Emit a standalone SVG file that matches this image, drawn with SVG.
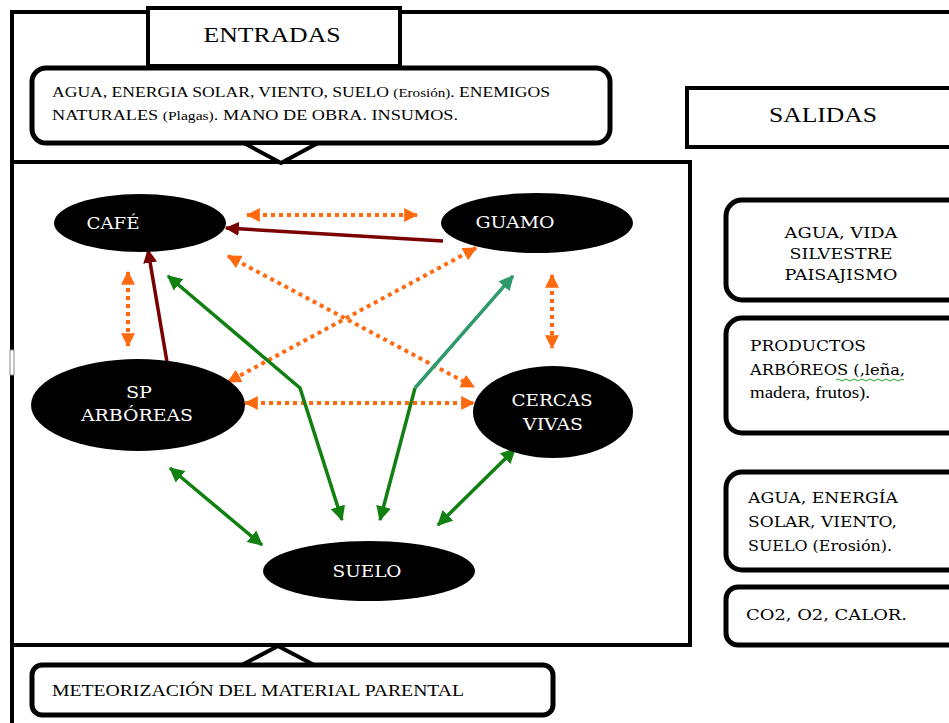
<svg xmlns="http://www.w3.org/2000/svg" width="949" height="723" viewBox="0 0 949 723">
  <style>
    .frame { fill: none; stroke: #000; stroke-width: 4; }
    .box { fill: #fff; stroke: #000; stroke-width: 4; }
    .rbox { fill: #fff; stroke: #000; stroke-width: 5; }
    .node { fill: #000; }
    .t { font-family: "Liberation Serif", "DejaVu Serif", serif; fill: #000; }
    .s { font-family: "DejaVu Serif", "Liberation Serif", serif; fill: #000; }
    .nt { font-family: "DejaVu Serif", "Liberation Serif", serif; fill: #fff; font-size: 16px; text-anchor: middle; }
    .dot { fill: none; stroke: #ff6a10; stroke-width: 4; stroke-dasharray: 4 4; }
    .red { fill: none; stroke: #7a0000; stroke-width: 3.5; }
    .grn { fill: none; stroke: #118011; stroke-width: 3.5; }
    .teal { fill: none; stroke: #2f9a6c; stroke-width: 3.5; }
  </style>
  <defs>
    <marker id="ao" viewBox="0 0 12 12" refX="11" refY="6" markerWidth="14" markerHeight="14" markerUnits="userSpaceOnUse" orient="auto-start-reverse">
      <path d="M0,0 L12,6 L0,12 Z" fill="#ff6a10"/>
    </marker>
    <marker id="ar" viewBox="0 0 12 12" refX="11" refY="6" markerWidth="14" markerHeight="14" markerUnits="userSpaceOnUse" orient="auto-start-reverse">
      <path d="M0,0 L12,6 L0,12 Z" fill="#7a0000"/>
    </marker>
    <marker id="ag" viewBox="0 0 12 12" refX="11" refY="6" markerWidth="15" markerHeight="15" markerUnits="userSpaceOnUse" orient="auto-start-reverse">
      <path d="M0,0 L12,6 L0,12 Z" fill="#118011"/>
    </marker>
    <marker id="at" viewBox="0 0 12 12" refX="11" refY="6" markerWidth="15" markerHeight="15" markerUnits="userSpaceOnUse" orient="auto-start-reverse">
      <path d="M0,0 L12,6 L0,12 Z" fill="#2f9a6c"/>
    </marker>
  </defs>

  <rect width="949" height="723" fill="#fff"/>

  <!-- outer frame -->
  <g id="frame">
    <path class="frame" d="M12,723 V12 H949"/>
  </g>

  <!-- system boundary -->
  <g id="system">
    <rect class="frame" x="12" y="162" width="678" height="483"/>
    <!-- small handle on the left edge -->
    <rect x="10" y="350" width="4" height="25" fill="#fff" stroke="#888" stroke-width="1"/>
  </g>

  <!-- inputs -->
  <g id="entradas">
    <rect class="box" x="148" y="8" width="252" height="58"/>
    <text class="t" x="272" y="42" font-size="20" text-anchor="middle" textLength="137" lengthAdjust="spacingAndGlyphs">ENTRADAS</text>
  </g>
  <g id="inputs">
    <rect class="rbox" x="32" y="68" width="578" height="75" rx="14"/>
    <text class="t" x="52" y="97" font-size="14" textLength="498" lengthAdjust="spacingAndGlyphs">AGUA, ENERGIA SOLAR, VIENTO, SUELO <tspan font-size="12">(Erosión)</tspan>. ENEMIGOS</text>
    <text class="t" x="52" y="120" font-size="14" textLength="406" lengthAdjust="spacingAndGlyphs">NATURALES  <tspan font-size="12">(Plagas)</tspan>. MANO DE OBRA.  INSUMOS.</text>
    <path d="M244,143 L281,163 L318,143 Z" fill="#fff" stroke="#000" stroke-width="4" stroke-linejoin="miter"/>
  </g>

  <!-- soil origin -->
  <g id="meteorizacion">
    <path d="M240,666 L278,646 L316,666 Z" fill="#fff" stroke="#000" stroke-width="4"/>
    <rect class="rbox" x="32" y="665" width="521" height="50" rx="10"/>
    <text class="t" x="52" y="696" font-size="16" textLength="412" lengthAdjust="spacingAndGlyphs">METEORIZACIÓN DEL MATERIAL PARENTAL</text>
  </g>

  <!-- outputs -->
  <g id="salidas">
    <rect class="box" x="687" y="88" width="270" height="59"/>
    <text class="t" x="823" y="122" font-size="20" text-anchor="middle" textLength="108" lengthAdjust="spacingAndGlyphs">SALIDAS</text>
  </g>
  <g id="out-agua-vida">
    <rect class="rbox" x="726" y="200" width="240" height="100" rx="16"/>
    <text class="s" x="841" y="238" font-size="15" text-anchor="middle" textLength="113" lengthAdjust="spacingAndGlyphs">AGUA, VIDA</text>
    <text class="s" x="841" y="259" font-size="15" text-anchor="middle" textLength="103" lengthAdjust="spacingAndGlyphs">SILVESTRE</text>
    <text class="s" x="841" y="280" font-size="15" text-anchor="middle" textLength="113" lengthAdjust="spacingAndGlyphs">PAISAJISMO</text>
  </g>
  <g id="out-productos">
    <rect class="rbox" x="726" y="318" width="240" height="115" rx="16"/>
    <text class="s" x="750" y="351" font-size="15" textLength="116" lengthAdjust="spacingAndGlyphs">PRODUCTOS</text>
    <text class="s" x="750" y="375" font-size="15" textLength="155" lengthAdjust="spacingAndGlyphs">ARBÓREOS (,leña,</text>
    <path d="M836,380 q2,-2 4,0 t4,0 t4,0 t4,0 t4,0 t4,0 t4,0 t4,0 t4,0 t4,0 t4,0 t4,0 t4,0 t4,0 t4,0 t4,0 t4,0" fill="none" stroke="#22aa22" stroke-width="1"/>
    <text class="t" x="750" y="398" font-size="16" textLength="120" lengthAdjust="spacingAndGlyphs">madera, frutos).</text>
  </g>
  <g id="out-agua-energia">
    <rect class="rbox" x="726" y="472" width="240" height="98" rx="16"/>
    <text class="s" x="748" y="503" font-size="15" textLength="150" lengthAdjust="spacingAndGlyphs">AGUA, ENERGÍA</text>
    <text class="s" x="748" y="527" font-size="15" textLength="149" lengthAdjust="spacingAndGlyphs">SOLAR, VIENTO,</text>
    <text class="s" x="748" y="551" font-size="15" textLength="144" lengthAdjust="spacingAndGlyphs">SUELO (Erosión).</text>
  </g>
  <g id="out-gases">
    <rect class="rbox" x="726" y="587" width="240" height="58" rx="12"/>
    <text class="s" x="746" y="620" font-size="15" textLength="161" lengthAdjust="spacingAndGlyphs">CO2,  O2, CALOR.</text>
  </g>

  <!-- connectors -->
  <g id="connectors">
    <line class="dot" x1="247" y1="215" x2="417" y2="215" marker-start="url(#ao)" marker-end="url(#ao)"/>
    <line class="dot" x1="128" y1="272" x2="128" y2="346" marker-start="url(#ao)" marker-end="url(#ao)"/>
    <line class="dot" x1="552" y1="275" x2="552" y2="348" marker-start="url(#ao)" marker-end="url(#ao)"/>
    <line class="dot" x1="245" y1="403" x2="474" y2="403" marker-start="url(#ao)" marker-end="url(#ao)"/>
    <line class="dot" x1="228" y1="256" x2="474" y2="387" marker-start="url(#ao)" marker-end="url(#ao)"/>
    <line class="dot" x1="476" y1="248" x2="228" y2="382" marker-start="url(#ao)" marker-end="url(#ao)"/>

    <line class="red" x1="443" y1="241" x2="226" y2="228" marker-end="url(#ar)"/>
    <line class="red" x1="167" y1="362" x2="148" y2="250" marker-end="url(#ar)"/>

    <polyline class="grn" points="168,276 300,388 342,520" marker-start="url(#ag)" marker-end="url(#ag)"/>
    <line class="grn" x1="415" y1="388" x2="380" y2="520" marker-end="url(#ag)"/>
    <line class="teal" x1="415" y1="388" x2="513" y2="276" marker-end="url(#at)"/>
    <line class="grn" x1="170" y1="468" x2="262" y2="545" marker-start="url(#ag)" marker-end="url(#ag)"/>
    <line class="grn" x1="515" y1="449" x2="438" y2="525" marker-start="url(#ag)" marker-end="url(#ag)"/>
  </g>

  <!-- nodes -->
  <g id="cafe">
    <ellipse class="node" cx="140" cy="223" rx="86" ry="29"/>
    <text class="nt" x="113" y="229" textLength="53" lengthAdjust="spacingAndGlyphs">CAFÉ</text>
  </g>
  <g id="guamo">
    <ellipse class="node" cx="537" cy="223" rx="96" ry="30"/>
    <text class="nt" x="515" y="228" textLength="79" lengthAdjust="spacingAndGlyphs">GUAMO</text>
  </g>
  <g id="sp-arboreas">
    <ellipse class="node" cx="138" cy="405" rx="107" ry="46"/>
    <text class="nt" x="139" y="398" textLength="26" lengthAdjust="spacingAndGlyphs">SP</text>
    <text class="nt" x="137" y="421" textLength="112" lengthAdjust="spacingAndGlyphs">ARBÓREAS</text>
  </g>
  <g id="cercas-vivas">
    <ellipse class="node" cx="553" cy="412" rx="80" ry="46"/>
    <text class="nt" x="552" y="406" textLength="81" lengthAdjust="spacingAndGlyphs">CERCAS</text>
    <text class="nt" x="553" y="430" textLength="60" lengthAdjust="spacingAndGlyphs">VIVAS</text>
  </g>
  <g id="suelo">
    <ellipse class="node" cx="369" cy="571" rx="106" ry="30"/>
    <text class="nt" x="367" y="577" textLength="69" lengthAdjust="spacingAndGlyphs">SUELO</text>
  </g>
</svg>
